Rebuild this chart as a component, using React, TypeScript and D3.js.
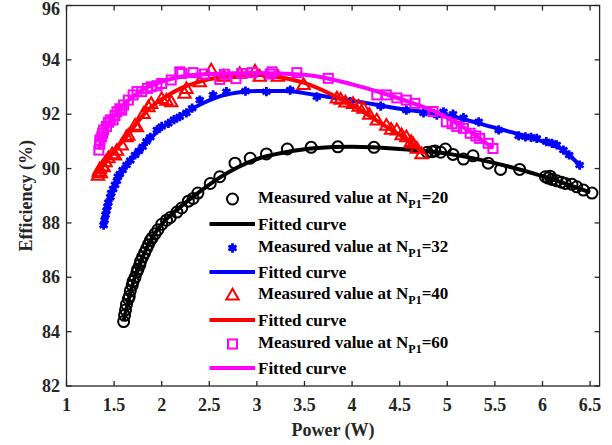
import React from "react";
import * as d3 from "d3";

const measured20: [number, number][] = [
  [1.6, 84.37], [1.61, 84.6], [1.62, 84.8], [1.63, 85.0], [1.65, 85.2], [1.66, 85.3], [1.67, 85.5],
  [1.69, 85.7], [1.7, 85.85], [1.72, 86.0], [1.74, 86.2], [1.75, 86.3], [1.77, 86.45], [1.78, 86.6],
  [1.8, 86.75], [1.82, 86.9], [1.84, 87.05], [1.86, 87.2], [1.88, 87.35], [1.9, 87.45], [1.93, 87.6],
  [1.96, 87.75], [2.0, 87.95], [2.05, 88.1], [2.09, 88.2], [2.16, 88.4], [2.21, 88.55], [2.28, 88.8],
  [2.33, 88.9], [2.38, 89.1], [2.51, 89.45], [2.61, 89.7], [2.77, 90.2], [2.93, 90.38], [3.1, 90.54],
  [3.32, 90.72], [3.57, 90.78], [3.85, 90.8], [4.23, 90.78], [4.79, 90.6], [4.84, 90.62], [4.87, 90.65],
  [4.93, 90.6], [4.98, 90.72], [5.06, 90.52], [5.17, 90.35], [5.27, 90.47], [5.43, 90.2], [5.56, 89.97],
  [5.76, 89.97], [6.03, 89.7], [6.06, 89.65], [6.08, 89.72], [6.1, 89.6], [6.15, 89.55], [6.2, 89.5],
  [6.24, 89.45], [6.31, 89.42], [6.36, 89.33], [6.43, 89.21], [6.52, 89.1],
];
const fitted20: [number, number][] = [
  [1.6, 84.4], [1.7, 85.8], [1.8, 86.75], [1.9, 87.45], [2.0, 87.95], [2.2, 88.6], [2.4, 89.15],
  [2.6, 89.65], [2.8, 90.05], [3.0, 90.35], [3.3, 90.6], [3.6, 90.75], [4.0, 90.8], [4.5, 90.72],
  [5.0, 90.55], [5.5, 90.2], [6.0, 89.72], [6.5, 89.12],
];

const measured32: [number, number][] = [
  [1.39, 87.92], [1.4, 88.1], [1.41, 88.3], [1.42, 88.45], [1.43, 88.6], [1.44, 88.75], [1.46, 88.95],
  [1.47, 89.1], [1.49, 89.25], [1.51, 89.4], [1.53, 89.55], [1.54, 89.7], [1.56, 89.8], [1.59, 89.95],
  [1.63, 90.13], [1.67, 90.3], [1.72, 90.5], [1.76, 90.65], [1.8, 90.8], [1.84, 91.0], [1.88, 91.15],
  [1.95, 91.42], [2.0, 91.55], [2.07, 91.66], [2.13, 91.8], [2.19, 91.91], [2.26, 92.05], [2.32, 92.22],
  [2.4, 92.52], [2.54, 92.71], [2.68, 92.83], [2.88, 92.85], [3.1, 92.83], [3.35, 92.89], [3.63, 92.64],
  [3.98, 92.46], [4.3, 92.3], [4.57, 92.15], [4.75, 92.05], [4.89, 91.97], [4.96, 92.09], [5.06, 92.0],
  [5.17, 91.87], [5.33, 91.72], [5.54, 91.42], [5.75, 91.2], [5.82, 91.17], [5.88, 91.15], [5.94, 91.11],
  [6.04, 90.99], [6.1, 90.93], [6.15, 90.87], [6.22, 90.68], [6.28, 90.5], [6.39, 90.13],
];
const fitted32: [number, number][] = [
  [1.39, 87.9], [1.5, 89.3], [1.6, 90.0], [1.8, 90.8], [2.0, 91.5], [2.2, 91.95], [2.4, 92.35],
  [2.6, 92.65], [2.8, 92.8], [3.0, 92.85], [3.3, 92.85], [3.6, 92.72], [4.0, 92.5], [4.5, 92.2],
  [5.0, 91.95], [5.5, 91.5], [6.0, 91.0], [6.2, 90.72], [6.39, 90.13],
];

const measured40: [number, number][] = [
  [1.33, 89.76], [1.34, 89.9], [1.35, 90.0], [1.36, 89.85], [1.38, 90.1], [1.39, 90.07], [1.41, 90.25],
  [1.44, 90.4], [1.48, 90.55], [1.51, 90.5], [1.53, 90.68], [1.58, 90.87], [1.63, 91.17], [1.65, 91.23],
  [1.72, 91.6], [1.74, 91.54], [1.81, 92.03], [1.86, 92.28], [1.89, 92.4], [2.0, 92.58], [2.05, 92.52],
  [2.1, 92.46], [2.24, 92.77], [2.26, 92.95], [2.4, 93.2], [2.52, 93.63], [2.65, 93.4], [2.82, 93.5],
  [2.98, 93.59], [3.03, 93.4], [3.22, 93.4], [3.49, 93.1], [3.84, 92.6], [3.88, 92.55], [3.93, 92.45],
  [4.01, 92.4], [4.07, 92.3], [4.12, 92.22], [4.18, 92.0], [4.26, 91.79], [4.36, 91.6], [4.41, 91.45],
  [4.47, 91.42], [4.52, 91.25], [4.57, 91.17], [4.62, 91.0], [4.64, 90.93], [4.68, 90.75], [4.73, 90.55],
];
const fitted40: [number, number][] = [
  [1.33, 89.85], [1.4, 90.2], [1.5, 90.65], [1.6, 91.05], [1.7, 91.5], [1.8, 91.95], [1.9, 92.3],
  [2.0, 92.55], [2.2, 92.95], [2.4, 93.2], [2.6, 93.35], [2.8, 93.42], [3.0, 93.45], [3.2, 93.38],
  [3.5, 93.15], [3.8, 92.7], [4.0, 92.35], [4.2, 91.9], [4.4, 91.45], [4.6, 91.0], [4.75, 90.55],
];

const measured60: [number, number][] = [
  [1.34, 90.68], [1.35, 90.9], [1.35, 91.05], [1.37, 91.17], [1.38, 91.3], [1.39, 91.42], [1.42, 91.55],
  [1.44, 91.7], [1.46, 91.79], [1.49, 91.79], [1.51, 91.95], [1.53, 92.09], [1.56, 92.2], [1.58, 92.15],
  [1.6, 92.34], [1.65, 92.52], [1.7, 92.71], [1.74, 92.83], [1.79, 92.83], [1.85, 92.95], [1.89, 93.01],
  [1.95, 93.05], [2.0, 93.13], [2.1, 93.26], [2.19, 93.56], [2.21, 93.5], [2.33, 93.53], [2.45, 93.48],
  [2.61, 93.28], [2.66, 93.47], [2.78, 93.31], [2.84, 93.5], [2.95, 93.53], [3.14, 93.48], [3.16, 93.56],
  [3.42, 93.53], [3.75, 93.32], [4.26, 92.71], [4.36, 92.71], [4.47, 92.6], [4.57, 92.52], [4.66, 92.4],
  [4.85, 92.1], [4.99, 91.72], [5.05, 91.65], [5.1, 91.55], [5.17, 91.48], [5.24, 91.3], [5.3, 91.2],
  [5.34, 91.11], [5.43, 90.93], [5.48, 90.74],
];
const fitted60: [number, number][] = [
  [1.34, 90.7], [1.4, 91.4], [1.5, 91.95], [1.6, 92.35], [1.7, 92.65], [1.8, 92.9], [2.0, 93.2],
  [2.2, 93.38], [2.5, 93.48], [3.0, 93.52], [3.5, 93.45], [4.0, 93.1], [4.3, 92.8], [4.6, 92.45],
  [4.9, 92.05], [5.2, 91.45], [5.48, 90.75],
];

const xTicks = [1, 1.5, 2, 2.5, 3, 3.5, 4, 4.5, 5, 5.5, 6, 6.5];
const yTicks = [82, 84, 86, 88, 90, 92, 94, 96];
const legendN = ["20", "32", "40", "60"];

const FONT = "Times New Roman, Liberation Serif, serif";
const AXIS = "#262626";

type Series = {
  pts: [number, number][];
  fit: [number, number][];
  color: string;
  marker: "circle" | "asterisk" | "triangle" | "square";
};

const series: Series[] = [
  { pts: measured20, fit: fitted20, color: "#000000", marker: "circle" },
  { pts: measured32, fit: fitted32, color: "#0000ff", marker: "asterisk" },
  { pts: measured40, fit: fitted40, color: "#ff0000", marker: "triangle" },
  { pts: measured60, fit: fitted60, color: "#ff00ff", marker: "square" },
];

function Marker({ kind, x, y, color }: { kind: string; x: number; y: number; color: string }) {
  if (kind === "circle") {
    return <circle cx={x} cy={y} r={5.5} fill="none" stroke={color} strokeWidth={2} />;
  }
  if (kind === "square") {
    return <rect x={x - 4.5} y={y - 4.5} width={9} height={9} fill="none" stroke={color} strokeWidth={2} />;
  }
  if (kind === "triangle") {
    const tri = d3.symbol().type(d3.symbolTriangle2).size(110)();
    return <path d={tri || ""} transform={`translate(${x},${y + 1})`} fill="none" stroke={color} strokeWidth={2} />;
  }
  const ast = d3.symbol().type(d3.symbolAsterisk).size(60)();
  return (
    <g transform={`translate(${x},${y})`}>
      <circle r={3} fill={color} />
      <path d={ast || ""} fill="none" stroke={color} strokeWidth={2.8} />
    </g>
  );
}

export default function App() {
  const W = 612, H = 445;
  const x = d3.scaleLinear().domain([1, 6.6]).range([66.5, 599.6]);
  const y = d3.scaleLinear().domain([82, 96]).range([386, 5.5]);
  const line = d3
    .line<[number, number]>()
    .x((d) => x(d[0]))
    .y((d) => y(d[1]))
    .curve(d3.curveMonotoneX);

  const [x0, x1] = x.range();
  const [y0, y1] = y.range();

  const legendX = 232.5;
  const legendRows = [199, 224, 248, 272, 295, 320, 344, 368];

  return (
    <svg width={W} height={H} style={{ position: "absolute", left: 0, top: 0, background: "#fff" }}>
      <rect width={W} height={H} fill="#fff" />
      {/* data */}
      {series.map((s, i) => (
        <g key={i}>
          {s.pts.map((p, j) => (
            <Marker key={j} kind={s.marker} x={x(p[0])} y={y(p[1])} color={s.color} />
          ))}
          <path d={line(s.fit) || ""} fill="none" stroke={s.color} strokeWidth={4} strokeLinejoin="round" />
        </g>
      ))}

      {/* box and ticks */}
      <rect x={x0} y={y1} width={x1 - x0} height={y0 - y1} fill="none" stroke={AXIS} strokeWidth={1.3} />
      {xTicks.map((t) => (
        <g key={"x" + t}>
          <line x1={x(t)} x2={x(t)} y1={y0} y2={y0 - 5} stroke={AXIS} strokeWidth={1.3} />
          <line x1={x(t)} x2={x(t)} y1={y1} y2={y1 + 5} stroke={AXIS} strokeWidth={1.3} />
          <text x={x(t)} y={411} textAnchor="middle" fontFamily={FONT} fontWeight="bold" fontSize={18} fill={AXIS}>
            {t}
          </text>
        </g>
      ))}
      {yTicks.map((t) => (
        <g key={"y" + t}>
          <line x1={x0} x2={x0 + 5} y1={y(t)} y2={y(t)} stroke={AXIS} strokeWidth={1.3} />
          <line x1={x1} x2={x1 - 5} y1={y(t)} y2={y(t)} stroke={AXIS} strokeWidth={1.3} />
          <text x={60} y={Math.max(y(t) + 6, 15)} textAnchor="end" fontFamily={FONT} fontWeight="bold" fontSize={18} fill={AXIS}>
            {t}
          </text>
        </g>
      ))}

      {/* axis labels */}
      <text x={(x0 + x1) / 2} y={436} textAnchor="middle" fontFamily={FONT} fontWeight="bold" fontSize={18} fill={AXIS}>
        Power (W)
      </text>
      <text
        transform={`translate(32,${(y0 + y1) / 2}) rotate(-90)`}
        textAnchor="middle"
        fontFamily={FONT}
        fontWeight="bold"
        fontSize={18}
        fill={AXIS}
      >
        Efficiency (%)
      </text>

      {/* legend */}
      {series.map((s, i) => {
        const my = legendRows[i * 2];
        const ly = legendRows[i * 2 + 1];
        return (
          <g key={"lg" + i}>
            <Marker kind={s.marker} x={legendX} y={my} color={s.color} />
            <text x={258} y={my + 4} fontFamily={FONT} fontWeight="bold" fontSize={17} fill="#000">
              Measured value at N
              <tspan fontSize={12} dy={5}>P1</tspan>
              <tspan dy={-5}>={legendN[i]}</tspan>
            </text>
            <line x1={209.5} x2={255} y1={ly} y2={ly} stroke={s.color} strokeWidth={4} />
            <text x={258} y={ly + 6} fontFamily={FONT} fontWeight="bold" fontSize={17} fill="#000">
              Fitted curve
            </text>
          </g>
        );
      })}
    </svg>
  );
}
